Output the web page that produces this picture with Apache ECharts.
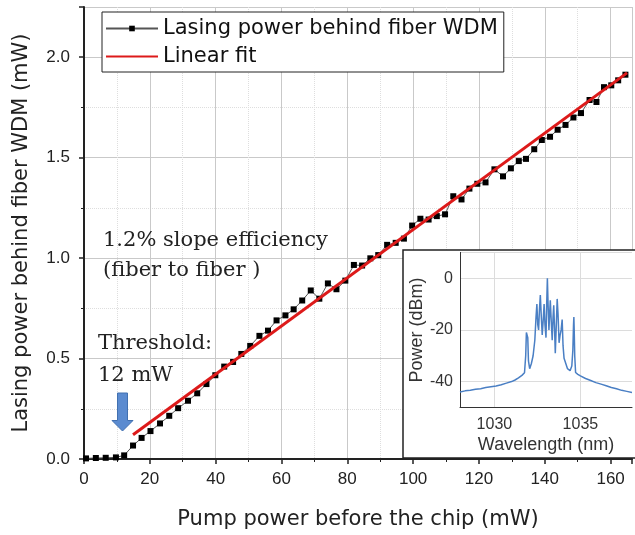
<!DOCTYPE html>
<html>
<head>
<meta charset="utf-8">
<script src="https://cdn.jsdelivr.net/npm/echarts@6/dist/echarts.min.js"></script>
<style>
html,body{margin:0;padding:0;background:#fff;}
#chart{width:635px;height:535px;}
</style>
</head>
<body>
<div id="chart"></div>
<script>
// ---- main data: pump power (mW) vs lasing power (mW)
var pumpX = [0.6,3.6,6.6,9.7,12.2,14.9,17.5,20.2,23.1,25.9,28.6,31.6,34.4,37.2,39.9,42.6,45.3,47.8,50.5,53.3,55.9,58.5,61.2,63.7,66.3,68.9,71.5,74.1,76.7,79.4,82.0,84.5,87.0,89.4,92.1,94.7,97.2,99.7,102.2,104.7,107.2,109.7,112.2,114.7,117.1,119.5,122.0,124.7,127.3,129.7,132.1,134.3,136.8,139.1,141.6,143.9,146.3,148.7,151.0,153.6,155.7,158.0,160.2,162.3,164.5];
var lasingY = [0.003,0.005,0.006,0.008,0.018,0.067,0.105,0.139,0.177,0.215,0.253,0.290,0.327,0.373,0.417,0.460,0.483,0.523,0.563,0.613,0.639,0.690,0.715,0.745,0.789,0.839,0.798,0.874,0.845,0.888,0.966,0.963,0.999,1.015,1.066,1.076,1.097,1.162,1.196,1.192,1.209,1.218,1.308,1.292,1.346,1.370,1.377,1.442,1.407,1.447,1.483,1.494,1.542,1.588,1.604,1.639,1.663,1.700,1.722,1.787,1.777,1.851,1.860,1.885,1.913];
var fitX = [14.9, 165.0];
var fitY = [0.121, 1.922];
var xTicks = [0,20,40,60,80,100,120,140,160];
var yTicks = [0.0,0.5,1.0,1.5,2.0];

// ---- inset spectrum: wavelength (nm) vs power (dBm)
var specNm = [1028.0,1028.3,1028.6,1028.9,1029.2,1029.5,1029.8,1030.1,1030.4,1030.7,1031.0,1031.2,1031.4,1031.6,1031.75,1031.82,1031.86,1031.9,1031.94,1031.98,1032.05,1032.15,1032.25,1032.35,1032.42,1032.47,1032.52,1032.57,1032.62,1032.67,1032.72,1032.78,1032.84,1032.89,1032.94,1033.0,1033.04,1033.08,1033.12,1033.17,1033.21,1033.25,1033.3,1033.36,1033.41,1033.45,1033.5,1033.54,1033.6,1033.65,1033.7,1033.76,1033.82,1033.88,1033.94,1033.99,1034.05,1034.15,1034.25,1034.4,1034.5,1034.56,1034.6,1034.62,1034.64,1034.67,1034.72,1034.85,1035.0,1035.3,1035.6,1035.9,1036.2,1036.5,1036.8,1037.1,1037.4,1037.7,1038.0];
var specDb = [-44.0,-43.6,-43.4,-43.0,-42.8,-42.3,-42.0,-41.7,-41.2,-40.6,-40.0,-39.4,-38.6,-37.6,-36.6,-30,-21,-20.3,-23,-32,-35,-33,-30,-24,-15,-10,-18,-20,-12,-6.5,-14,-22,-16,-10,-18,-23,-10,0,-10,-20,-14,-8.5,-16,-24,-15,-10.5,-20,-29,-18,-8,-14,-25,-22,-20,-16,-26,-31,-33,-35,-35.8,-34,-28,-18,-15,-20,-30,-36.5,-37.2,-37.8,-38.8,-39.6,-40.4,-41.0,-41.6,-42.3,-42.8,-43.4,-43.8,-44.2];
var insetXTicks = [1030,1035];
var insetYTicks = [0,-20,-40];

function zip(a,b){return a.map(function(v,i){return [v,b[i]];});}

var chart = echarts.init(document.getElementById('chart'), null, {renderer:'canvas'});
var sans = 'Liberation Sans, Arial, sans-serif';
var wide = 'DejaVu Sans, sans-serif';

var insetMarks = [];
insetYTicks.forEach(function(v){insetMarks.push({yAxis:v});});
insetXTicks.forEach(function(v){insetMarks.push({xAxis:v});});
insetMarks.push({yAxis:10});

var option = {
  backgroundColor:'#fff',
  animation:false,
  grid:[
    {left:84, top:7, right:0, height:453, containLabel:false},
    {left:460, top:252.4, right:-10, height:155, containLabel:false}
  ],
  legend:{
    left:102, top:12, orient:'vertical',
    backgroundColor:'#fff',
    borderColor:'#222', borderWidth:1,
    padding:[6,6,5,3], itemGap:7,
    itemWidth:52, itemHeight:7,
    textStyle:{fontFamily:wide, fontSize:21, color:'#111'},
    data:[{name:'Lasing power behind fiber WDM'},
          {name:'Linear fit', itemStyle:{opacity:0}}]
  },
  xAxis:[
    {type:'value', gridIndex:0, min:0, max:166.5, interval:20,
     name:'Pump power before the chip (mW)', nameLocation:'middle', nameGap:50,
     nameTextStyle:{fontFamily:wide, fontSize:21, color:'#222'},
     axisLine:{show:true, onZero:false, lineStyle:{color:'#222', width:2}},
     axisTick:{show:true, length:5, lineStyle:{color:'#222', width:1.5}},
     minorTick:{show:true, splitNumber:2, length:3, lineStyle:{color:'#222'}},
     axisLabel:{fontFamily:sans, fontSize:17, color:'#222', margin:12,
       formatter:function(v){return xTicks.indexOf(v)>=0 ? String(v) : '';}},
     splitLine:{show:true, lineStyle:{color:'#c9c9c9', width:1}},
     minorSplitLine:{show:true, lineStyle:{color:'#dedede', type:'dotted', width:1}}
    },
    {type:'value', gridIndex:1, min:1028, max:1038, interval:1, z:10,
     name:'Wavelength (nm)', nameLocation:'middle', nameGap:29,
     nameTextStyle:{fontFamily:sans, fontSize:18, color:'#333'},
     axisLine:{show:true, onZero:false, lineStyle:{color:'#333', width:1}},
     axisTick:{show:false},
     axisLabel:{fontFamily:sans, fontSize:16, color:'#333', margin:9,
       formatter:function(v){return insetXTicks.indexOf(v)>=0 ? String(v) : '';}},
     splitLine:{show:false}
    }
  ],
  yAxis:[
    {type:'value', gridIndex:0, min:0, max:2.25, interval:0.5,
     name:'Lasing power behind fiber WDM (mW)', nameLocation:'middle', nameGap:52,
     nameTextStyle:{fontFamily:wide, fontSize:21, color:'#222'},
     axisLine:{show:true, onZero:false, lineStyle:{color:'#222', width:2}},
     axisTick:{show:true, length:5, lineStyle:{color:'#222', width:1.5}},
     minorTick:{show:true, splitNumber:2, length:3, lineStyle:{color:'#222'}},
     axisLabel:{fontFamily:sans, fontSize:17, color:'#222', margin:14,
       formatter:function(v){
         for (var i=0;i<yTicks.length;i++){ if (Math.abs(yTicks[i]-v)<1e-6) return yTicks[i].toFixed(1); }
         return '';}},
     splitLine:{show:true, lineStyle:{color:'#c9c9c9', width:1}},
     minorSplitLine:{show:true, lineStyle:{color:'#dedede', type:'dotted', width:1}}
    },
    {type:'value', gridIndex:1, min:-50, max:10, interval:10, z:10,
     name:'Power (dBm)', nameLocation:'middle', nameGap:32,
     nameTextStyle:{fontFamily:sans, fontSize:18, color:'#333'},
     axisLine:{show:true, onZero:false, lineStyle:{color:'#333', width:1}},
     axisTick:{show:false},
     axisLabel:{fontFamily:sans, fontSize:16, color:'#333', margin:7,
       formatter:function(v){return insetYTicks.indexOf(v)>=0 ? String(v) : '';}},
     splitLine:{show:false}
    }
  ],
  graphic:[
    {type:'rect', z:5, shape:{x:403, y:250, width:260, height:208},
     style:{fill:'#fff', stroke:'#222', lineWidth:1.5}},
    {type:'text', z:6, left:103, top:230,
     style:{text:'1.2% slope efficiency', font:'21px DejaVu Serif, serif', fill:'#222'}},
    {type:'text', z:6, left:103, top:260,
     style:{text:'(fiber to fiber )', font:'21px DejaVu Serif, serif', fill:'#222'}},
    {type:'text', z:6, left:98, top:333,
     style:{text:'Threshold:', font:'21px DejaVu Serif, serif', fill:'#222'}},
    {type:'text', z:6, left:98, top:365,
     style:{text:'12 mW', font:'21px DejaVu Serif, serif', fill:'#222'}},
    {type:'polygon', z:6,
     shape:{points:[[117.5,393],[127.5,393],[127.5,420.5],[133,420.5],[122.5,431],[112,420.5],[117.5,420.5]]},
     style:{fill:'#5b8bd0', stroke:'#4170b0', lineWidth:1}}
  ],
  series:[
    {name:'Lasing power behind fiber WDM', type:'line', xAxisIndex:0, yAxisIndex:0,
     data:zip(pumpX, lasingY), symbol:'rect', symbolSize:6, showSymbol:true,
     itemStyle:{color:'#000'}, lineStyle:{color:'#555', width:1}, z:3},
    {name:'Linear fit', type:'line', xAxisIndex:0, yAxisIndex:0,
     data:zip(fitX, fitY), symbol:'none', showSymbol:false,
     itemStyle:{color:'#dd1a1a'}, lineStyle:{color:'#dd1a1a', width:3}, z:4},
    {name:'spectrum', type:'line', xAxisIndex:1, yAxisIndex:1,
     data:zip(specNm, specDb), symbol:'none', showSymbol:false, z:10, clip:true,
     lineStyle:{color:'#4a7fc4', width:1.5}, itemStyle:{color:'#4a7fc4'},
     markLine:{silent:true, symbol:'none', label:{show:false}, z:9,
       lineStyle:{color:'#dcdcdc', type:'solid', width:1}, data:insetMarks}}
  ]
};
chart.setOption(option);
</script>
</body>
</html>
